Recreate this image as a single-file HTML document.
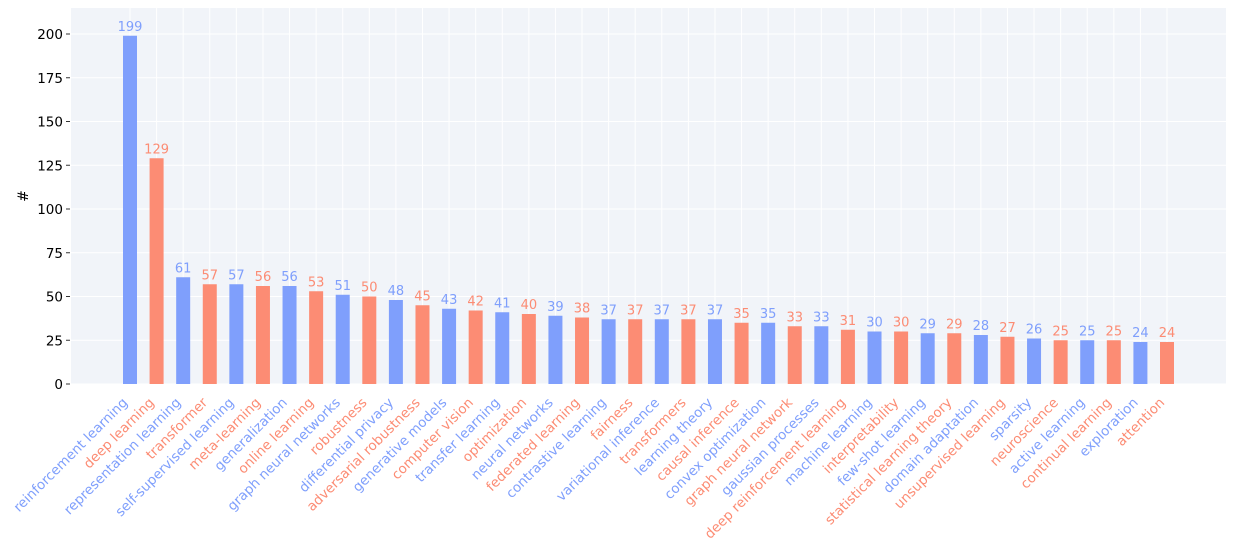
<!DOCTYPE html>
<html><head><meta charset="utf-8"><style>
body{margin:0;background:#fff;font-family:"DejaVu Sans","Liberation Sans",sans-serif;}
</style></head><body>
<svg id="chart" width="1235" height="549" xmlns="http://www.w3.org/2000/svg">
<rect x="71" y="8" width="1155" height="376" fill="#f1f4f9"/>
<g id="grid"></g><g id="bars"></g><g id="yaxis"></g><g id="xlabels"></g>
<text x="28" y="196" transform="rotate(-90 28 196)" font-size="14" text-anchor="middle" fill="#000">#</text>
</svg>
<script>
const categories=["reinforcement learning","deep learning","representation learning","transformer","self-supervised learning","meta-learning","generalization","online learning","graph neural networks","robustness","differential privacy","adversarial robustness","generative models","computer vision","transfer learning","optimization","neural networks","federated learning","contrastive learning","fairness","variational inference","transformers","learning theory","causal inference","convex optimization","graph neural network","gaussian processes","deep reinforcement learning","machine learning","interpretability","few-shot learning","statistical learning theory","domain adaptation","unsupervised learning","sparsity","neuroscience","active learning","continual learning","exploration","attention"];
const values=[199,129,61,57,57,56,56,53,51,50,48,45,43,42,41,40,39,38,37,37,37,37,37,35,35,33,33,31,30,30,29,29,28,27,26,25,25,25,24,24];
const yTicks=[0,25,50,75,100,125,150,175,200];
const NS="http://www.w3.org/2000/svg";
const y0=384,pxPer=1.75,x0=130,step=(1167-130)/39,bw=14;
const yS=v=>y0-v*pxPer, xS=i=>x0+i*step;
const blue="#7f9ffc",red="#fc8c74";
function mk(t,a,p){const e=document.createElementNS(NS,t);for(const k in a)e.setAttribute(k,a[k]);p.appendChild(e);return e;}
const grid=document.getElementById('grid'),bars=document.getElementById('bars'),ya=document.getElementById('yaxis'),xl=document.getElementById('xlabels');
yTicks.forEach(t=>{
 const l=mk('line',{x1:71,x2:1226,y1:yS(t),y2:yS(t),stroke:'#fff','stroke-width':1},grid);
 
 
 const tk=mk('line',{x1:66,x2:70,y1:yS(t),y2:yS(t),stroke:'#333'},ya);
 
 
 const tx=mk('text',{x:63,y:yS(t)+5,'text-anchor':'end','font-size':13.5,fill:'#000'},ya);
 tx.textContent=t;
 
 
});
categories.forEach((c,i)=>{
 const x=xS(i),col=i%2?red:blue;
 const g=mk('line',{x1:x,x2:x,y1:8,y2:384,stroke:'#fff'},grid);
 
 
 const r=mk('rect',{x:x-bw/2,y:yS(values[i]),width:bw,height:values[i]*pxPer,fill:col},bars);
 
 
 const v=mk('text',{x:x,y:yS(values[i])-5,'text-anchor':'middle','font-size':13,fill:col},bars);
 v.textContent=values[i];
 
 
 const lx=x-8,ly=397;
 const t=mk('text',{x:lx,y:ly+9,'text-anchor':'end','font-size':13.5,fill:col,transform:`rotate(-45 ${lx} ${ly})`},xl);
 t.textContent=c;
 
 
});
</script>
</body></html>
